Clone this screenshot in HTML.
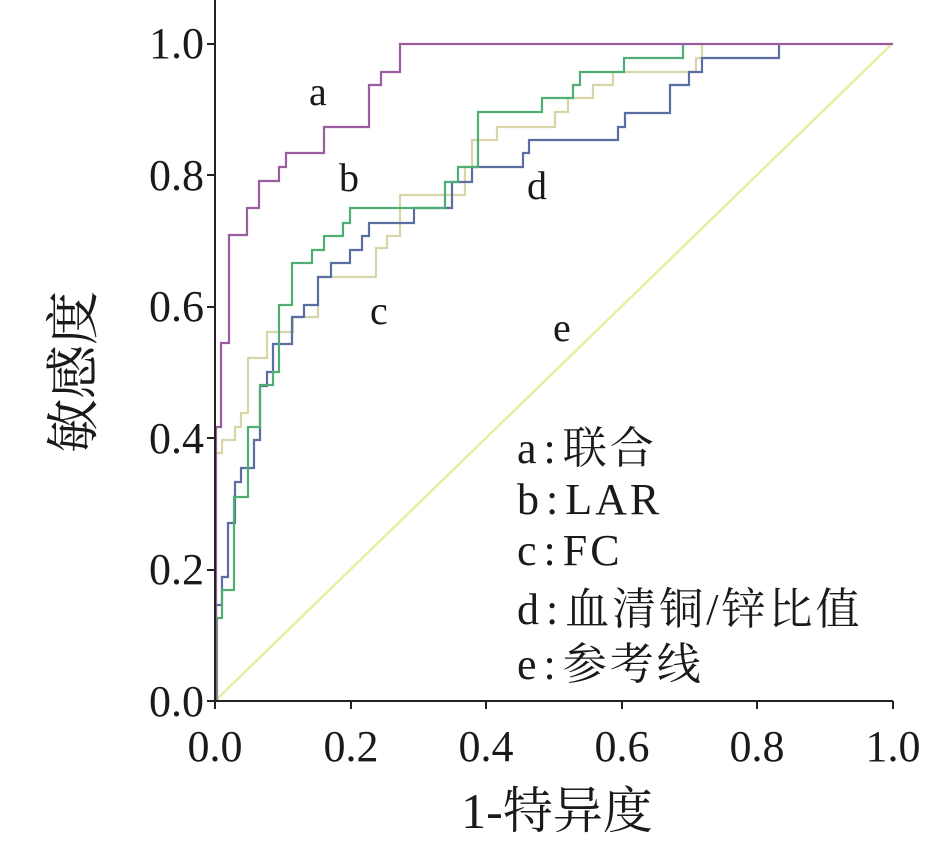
<!DOCTYPE html>
<html><head><meta charset="utf-8"><style>
body{margin:0;background:#fff;}
svg text{font-family:"Liberation Serif","Noto Serif CJK SC",serif;fill:#1a1a1a;}
</style></head><body>
<svg width="936" height="859" viewBox="0 0 936 859" xmlns="http://www.w3.org/2000/svg">
<rect width="936" height="859" fill="#fff"/>
<line x1="215" y1="701" x2="893" y2="43" stroke="#e6eea0" stroke-width="2.5"/>
<g fill="none" stroke-width="2.2">
<polyline stroke="#d9d5aa" points="216,701 216,453 222,453 222,440 235,440 235,427 241,427 241,413 248,413 248,358 267,358 267,332 293,332 293,317 318,317 318,277 376,277 376,248 387,248 387,236 400,236 400,195 465,195 465,167 472,167 472,140 497,140 497,127 555,127 555,112 568,112 568,98 593,98 593,85 613,85 613,72 696,72 696,58 702,58 702,44"/>
<polyline stroke="#5a6ea2" points="216,701 216,605 222,605 222,577 228,577 228,523 235,523 235,482 241,482 241,468 254,468 254,440 260,440 260,386 267,386 267,372 273,372 273,344 292,344 292,317 304,317 304,305 318,305 318,277 331,277 331,263 350,263 350,250 362,250 362,236 369,236 369,223 414,223 414,208 452,208 452,182 472,182 472,167 523,167 523,153 529,153 529,140 618,140 618,127 625,127 625,113 670,113 670,85 689,85 689,72 702,72 702,58 779,58 779,44"/>
<polyline stroke="#4fae74" points="217,701 217,618 222,618 222,590 234,590 234,497 248,497 248,427 260,427 260,385 273,385 273,372 279,372 279,305 292,305 292,263 312,263 312,250 324,250 324,236 343,236 343,223 350,223 350,208 445,208 445,182 458,182 458,167 478,167 478,112 542,112 542,98 573,98 573,85 580,85 580,72 624,72 624,58 683,58 683,44"/>
<polyline stroke="#9a5b9f" points="216,701 216,427 221,427 221,343 229,343 229,235 247,235 247,208 259,208 259,181 279,181 279,167 286,167 286,153 324,153 324,127 369,127 369,85 381,85 381,72 400,72 400,44 893,44"/>
</g>
<g stroke="#222" stroke-width="2">
<line x1="215" y1="0" x2="215" y2="702"/>
<line x1="214" y1="701" x2="893" y2="701"/>
<line x1="207" y1="44" x2="215" y2="44"/><line x1="207" y1="175" x2="215" y2="175"/><line x1="207" y1="307" x2="215" y2="307"/><line x1="207" y1="438" x2="215" y2="438"/><line x1="207" y1="570" x2="215" y2="570"/><line x1="207" y1="701" x2="215" y2="701"/>
<line x1="215" y1="701" x2="215" y2="709"/><line x1="351" y1="701" x2="351" y2="709"/><line x1="486" y1="701" x2="486" y2="709"/><line x1="622" y1="701" x2="622" y2="709"/><line x1="757" y1="701" x2="757" y2="709"/><line x1="893" y1="701" x2="893" y2="709"/>
</g>
<g font-size="44" text-anchor="end">
<text x="204" y="58">1.0</text><text x="204" y="190">0.8</text><text x="204" y="321">0.6</text><text x="204" y="453">0.4</text><text x="204" y="584">0.2</text><text x="204" y="716">0.0</text>
</g>
<g font-size="44" text-anchor="middle">
<text x="215" y="761">0.0</text><text x="351" y="761">0.2</text><text x="486" y="761">0.4</text><text x="622" y="761">0.6</text><text x="757" y="761">0.8</text><text x="893" y="761">1.0</text>
</g>
<g font-size="50" text-anchor="middle">
<text x="557" y="828">1-特异度</text>
<text transform="translate(92,372) rotate(-90)" font-size="54">敏感度</text>
</g>
<g font-size="40">
<text x="309" y="105">a</text><text x="339" y="191">b</text><text x="370" y="324">c</text><text x="527" y="199">d</text><text x="553" y="341">e</text>
</g>
<g font-size="44" letter-spacing="3">
<text x="517" y="463">a<tspan dx="4">:</tspan><tspan dx="4">联合</tspan></text>
<text x="517" y="514">b<tspan dx="4">:</tspan><tspan dx="4">LAR</tspan></text>
<text x="517" y="565">c<tspan dx="4">:</tspan><tspan dx="4">FC</tspan></text>
<text x="517" y="624">d<tspan dx="4">:</tspan><tspan dx="4">血清铜/锌比值</tspan></text>
<text x="517" y="679">e<tspan dx="4">:</tspan><tspan dx="4">参考线</tspan></text>
</g>
</svg>
</body></html>
